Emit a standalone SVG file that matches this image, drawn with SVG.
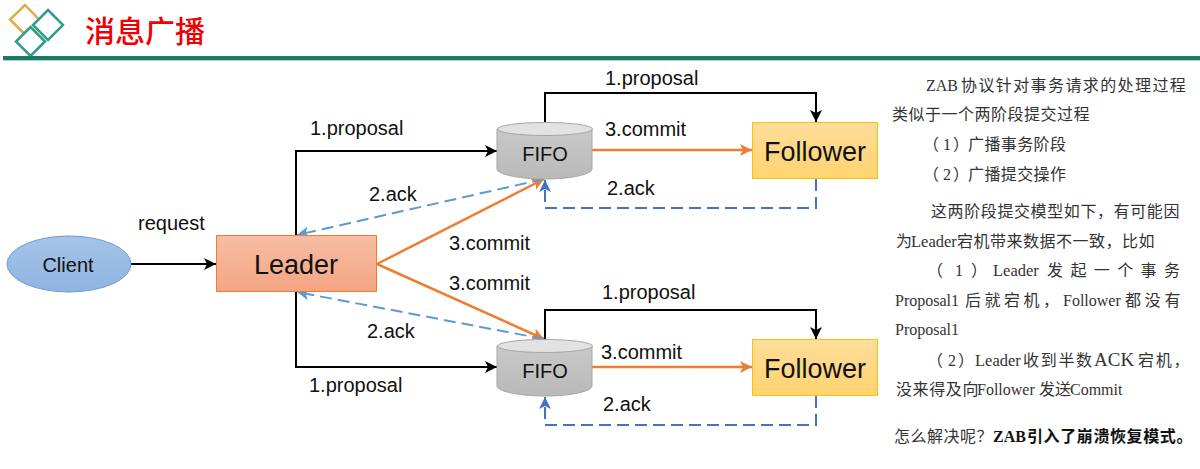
<svg xmlns="http://www.w3.org/2000/svg" width="1200" height="469" viewBox="0 0 1200 469">
<style>
.l{font-family:"Liberation Sans",Arial,sans-serif;font-size:20px;fill:#111}
.n{font-family:"Liberation Sans",Arial,sans-serif;fill:#111;text-anchor:middle}
.t{font-family:"Liberation Serif","Noto Sans CJK SC",serif;font-size:16px;fill:#333}
.k{fill:none;stroke:#000;stroke-width:2}
.o{fill:none;stroke:#ed7d31;stroke-width:2.500}
.b{fill:none;stroke:#5b9bd5;stroke-width:2;stroke-dasharray:12 6}
.d{fill:none;stroke:#4472c4;stroke-width:2;stroke-dasharray:12 6}
.cyl{fill:url(#gy);stroke:#a6a6a6;stroke-width:1}
.top{fill:#e2e2e2;stroke:#a6a6a6;stroke-width:1}
</style>
<defs>
<linearGradient id="gy" x1="0" y1="0" x2="0" y2="1"><stop offset="0" stop-color="#c9c9c9"/><stop offset="1" stop-color="#b9b9b9"/></linearGradient>
<linearGradient id="gf" x1="0" y1="0" x2="0" y2="1"><stop offset="0" stop-color="#ffdd9c"/><stop offset="1" stop-color="#ffd36f"/></linearGradient>
<linearGradient id="gl" x1="0" y1="0" x2="0" y2="1"><stop offset="0" stop-color="#f7bda4"/><stop offset="1" stop-color="#f4a583"/></linearGradient>
<linearGradient id="gc" x1="0" y1="0" x2="0" y2="1"><stop offset="0" stop-color="#a5c4e8"/><stop offset="1" stop-color="#8fb4e0"/></linearGradient>
<marker id="ak" markerUnits="userSpaceOnUse" markerWidth="14" markerHeight="12" refX="12" refY="6" orient="auto"><path d="M0 0L12 6L0 12L3 6Z" fill="#000"/></marker>
<marker id="ao" markerUnits="userSpaceOnUse" markerWidth="14" markerHeight="12" refX="12" refY="6" orient="auto"><path d="M0 0L12 6L0 12L3 6Z" fill="#ed7d31"/></marker>
<marker id="ab" markerUnits="userSpaceOnUse" markerWidth="14" markerHeight="12" refX="12" refY="6" orient="auto"><path d="M0 0L12 6L0 12L3 6Z" fill="#5b9bd5"/></marker>
<marker id="ad" markerUnits="userSpaceOnUse" markerWidth="14" markerHeight="12" refX="12" refY="6" orient="auto"><path d="M0 0L12 6L0 12L3 6Z" fill="#4472c4"/></marker>
</defs>

<g id="header">
<path d="M23.500 33L10 19.500L25 5L38 18.500" fill="none" stroke="#e3aa45" stroke-width="2.500"/>
<path d="M48 10L63 25L48 40L33 25Z" fill="none" stroke="#2f9e88" stroke-width="2.500"/>
<path d="M30.500 27L45 41.500L30.500 56L16 41.500Z" fill="none" stroke="#2f9e88" stroke-width="2.500"/>
<text x="85" y="42" font-family="'Noto Sans CJK SC',sans-serif" font-size="30" font-weight="500" fill="#f00000">消息广播</text>
<rect x="3" y="56" width="1197" height="4" fill="#1a7a66"/>
<rect x="3" y="60" width="1197" height="1" fill="#a8d8cc"/>
</g>

<g id="connectors">
<path class="k" d="M131 264H216" marker-end="url(#ak)"/>
<path class="k" d="M296 236V151H497" marker-end="url(#ak)"/>
<path class="k" d="M296 292V367H497" marker-end="url(#ak)"/>
<path class="k" d="M545 123V93H816V122" marker-end="url(#ak)"/>
<path class="k" d="M545 339V310H816V339" marker-end="url(#ak)"/>
<path class="o" d="M592 150H752" marker-end="url(#ao)"/>
<path class="o" d="M592 367H752" marker-end="url(#ao)"/>
<path class="o" d="M377 264L544 179" marker-end="url(#ao)"/>
<path class="o" d="M377 264L544 339" marker-end="url(#ao)"/>
<path class="b" d="M544 179L297 235" marker-end="url(#ab)"/>
<path class="b" d="M544 339L297 292" marker-end="url(#ab)"/>
<path class="d" d="M816 179V208H545V180" marker-end="url(#ad)"/>
<path class="d" d="M816 396V425H545V397" marker-end="url(#ad)"/>
</g>

<g id="client"><ellipse cx="69" cy="264" rx="62" ry="28" fill="url(#gc)" stroke="#6d9bd1"/><text class="n" x="68" y="272" font-size="20">Client</text></g>
<g id="leader"><rect x="216.500" y="235.500" width="160" height="56" fill="url(#gl)" stroke="#ed7d31"/><text class="n" x="296" y="274" font-size="27">Leader</text></g>
<g id="fifo1"><path class="cyl" d="M497 129V169C497 174 518 179 545 179C572 179 592 174 592 169V129Z"/><ellipse class="top" cx="545" cy="129" rx="47.500" ry="6.500"/><text class="n" x="545" y="161" font-size="20">FIFO</text></g>
<g id="fifo2"><path class="cyl" d="M497 346V386C497 391 518 396 545 396C572 396 592 391 592 386V346Z"/><ellipse class="top" cx="545" cy="346" rx="47.500" ry="6.500"/><text class="n" x="545" y="378" font-size="20">FIFO</text></g>
<g id="follower1"><rect x="752.500" y="122.500" width="125" height="56" fill="url(#gf)" stroke="#ffc000"/><text class="n" x="815" y="161" font-size="27">Follower</text></g>
<g id="follower2"><rect x="752.500" y="339.500" width="125" height="56" fill="url(#gf)" stroke="#ffc000"/><text class="n" x="815" y="378" font-size="27">Follower</text></g>

<g id="labels">
<text class="l" x="138" y="230">request</text>
<text class="l" x="310" y="135">1.proposal</text>
<text class="l" x="309" y="392">1.proposal</text>
<text class="l" x="605" y="85">1.proposal</text>
<text class="l" x="602" y="299">1.proposal</text>
<text class="l" x="605" y="136">3.commit</text>
<text class="l" x="601" y="359">3.commit</text>
<text class="l" x="449" y="250">3.commit</text>
<text class="l" x="449" y="290">3.commit</text>
<text class="l" x="369" y="201">2.ack</text>
<text class="l" x="367" y="338">2.ack</text>
<text class="l" x="607" y="195">2.ack</text>
<text class="l" x="603" y="411">2.ack</text>
</g>

<g id="notes">
<text class="t" y="91"><tspan x="926">ZAB</tspan><tspan x="961" letter-spacing="1.400">协议针对事务请求的处理过程</tspan></text>
<text class="t" y="120" x="892" letter-spacing="0.500">类似于一个两阶段提交过程</text>
<text class="t" y="150"><tspan x="923">（</tspan><tspan x="943">1</tspan><tspan x="953">）</tspan><tspan x="968" letter-spacing="0.400">广播事务阶段</tspan></text>
<text class="t" y="180"><tspan x="923">（</tspan><tspan x="943">2</tspan><tspan x="953">）</tspan><tspan x="968" letter-spacing="0.400">广播提交操作</tspan></text>
<text class="t" y="217" x="931" letter-spacing="0.600">这两阶段提交模型如下，有可能因</text>
<text class="t" y="247"><tspan x="896">为</tspan><tspan x="911" font-size="16.500">Leader</tspan><tspan x="957" letter-spacing="0.500">宕机带来数据不一致，比如</tspan></text>
<text class="t" y="276"><tspan x="927">（</tspan><tspan x="955">1</tspan><tspan x="971">）</tspan><tspan x="993" font-size="16.500">Leader</tspan><tspan x="1047" letter-spacing="7.400">发起一个事务</tspan></text>
<text class="t" y="306"><tspan x="895">Proposal1</tspan><tspan x="965" letter-spacing="3.500">后就宕机，</tspan><tspan x="1063">Follower</tspan><tspan x="1125" letter-spacing="3.800">都没有</tspan></text>
<text class="t" y="335" x="895">Proposal1</text>
<text class="t" y="366"><tspan x="927">（</tspan><tspan x="948">2</tspan><tspan x="958">）</tspan><tspan x="975" font-size="16.500">Leader</tspan><tspan x="1023" letter-spacing="1.700">收到半数</tspan><tspan x="1094" font-size="19">ACK</tspan><tspan x="1138" letter-spacing="1.800">宕机，</tspan></text>
<text class="t" y="395"><tspan x="896" letter-spacing="0.600">没来得及向</tspan><tspan x="977">Follower</tspan><tspan x="1039">发送</tspan><tspan x="1070">Commit</tspan></text>
<text class="t" y="442"><tspan x="894" letter-spacing="0.500">怎么解决呢？</tspan><tspan x="993" font-weight="bold" fill="#111">ZAB</tspan><tspan x="1027" font-weight="bold" fill="#111" letter-spacing="0.600">引入了崩溃恢复模式。</tspan></text>
</g>
</svg>
